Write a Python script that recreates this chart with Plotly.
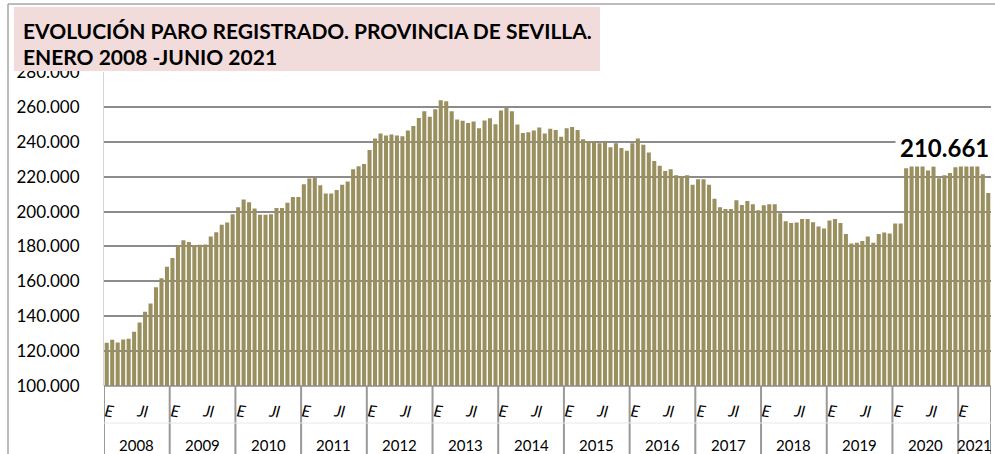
import plotly.graph_objects as go

# ---------------- data ----------------
years = ["2008", "2009", "2010", "2011", "2012", "2013", "2014",
         "2015", "2016", "2017", "2018", "2019", "2020", "2021"]
month_tick_index = [0, 6]
month_tick_text = ["E", "Jl"]
y_ticks = [100000, 120000, 140000, 160000, 180000, 200000, 220000, 240000, 260000, 280000]

v2008 = [124800, 126500, 125000, 126700, 127100, 131100, 136400, 142500, 147300, 156600, 161700, 168400]
v2009 = [173400, 180400, 183600, 182500, 180800, 181000, 181100, 185700, 188200, 192400, 193700, 198500]
v2010 = [202500, 206900, 205400, 201700, 198100, 198100, 198500, 202100, 202100, 205000, 208400, 208400]
v2011 = [215600, 218900, 219400, 215100, 210300, 210300, 212400, 215400, 217300, 224200, 225900, 227300]
v2012 = [235300, 241900, 244800, 243600, 244200, 243600, 243200, 246500, 249100, 253700, 257500, 254300]
v2013 = [258700, 263800, 263200, 257500, 252800, 252000, 250700, 251600, 247800, 252200, 253500, 250100]
v2014 = [257900, 259400, 257500, 249900, 245000, 245400, 246500, 248200, 244800, 247400, 246700, 242900]
v2015 = [247800, 248400, 246700, 241400, 240400, 240200, 239100, 240200, 236800, 239100, 236400, 234900]
v2016 = [239200, 241900, 238300, 233900, 229000, 226300, 223200, 224200, 220800, 220400, 220800, 215400]
v2017 = [218500, 218500, 215400, 207400, 202500, 201500, 201400, 206500, 203800, 206100, 204200, 200800]
v2018 = [203600, 204200, 204200, 199100, 194500, 193500, 193700, 195700, 195700, 193900, 191400, 190300]
v2019 = [194900, 195700, 193400, 187100, 181700, 182100, 183100, 185700, 182100, 187100, 188000, 187400]
v2020 = [193100, 193100, 224800, 229900, 226100, 228000, 223600, 225900, 219100, 220800, 222100, 225400]
v2021 = [230100, 231100, 228600, 227400, 221400, 210661]

yearly = [v2008, v2009, v2010, v2011, v2012, v2013, v2014,
          v2015, v2016, v2017, v2018, v2019, v2020, v2021]

title_line1 = "EVOLUCIÓN PARO REGISTRADO. PROVINCIA DE SEVILLA."
title_line2 = "ENERO 2008 -JUNIO 2021"

# ---------------- build ----------------
series = [v for yr in yearly for v in yr]
n = len(series)
xs = list(range(n))


def fmt(v):
    return f"{v:,}".replace(",", ".")


W, H = 995, 454
ML, MR, MT, MB = 104, 4, 72, 68
PW, PH = W - ML - MR, H - MT - MB


def px(x):
    return (x - ML) / PW


def py(y):
    return (H - MB - y) / PH


FONT = "Lato"
GRID = "#8C8C8C"

fig = go.Figure(
    go.Bar(x=xs, y=series, width=0.74,
           marker=dict(color="#9A8F5E", line=dict(width=0)),
           hoverinfo="skip")
)

fig.update_layout(
    width=W, height=H,
    margin=dict(l=ML, r=MR, t=MT, b=MB),
    paper_bgcolor="white", plot_bgcolor="white",
    showlegend=False,
    font=dict(family=FONT, color="black"),
)

fig.update_xaxes(range=[-0.5, n - 0.5], showticklabels=False, showgrid=False,
                 zeroline=False, showline=False, ticks="")
fig.update_yaxes(range=[y_ticks[0], y_ticks[-1]], tickvals=y_ticks,
                 ticktext=[fmt(v) for v in y_ticks],
                 tickfont=dict(family=FONT, size=17, color="black"),
                 showgrid=True, gridcolor=GRID, gridwidth=1.5,
                 zeroline=False, showline=True, linecolor="#D4D4D4", linewidth=1,
                 ticks="", ticklabelstandoff=20)

shapes = []
# baseline
shapes.append(dict(type="line", xref="paper", yref="paper", x0=0, x1=1, y0=0, y1=0,
                   line=dict(color=GRID, width=1.5)))
# year dividers below axis
starts = [0]
for yr in yearly:
    starts.append(starts[-1] + len(yr))
for s in starts:
    shapes.append(dict(type="line", xref="x", yref="paper", x0=s - 0.5, x1=s - 0.5,
                       y0=0, y1=py(H), line=dict(color="#999999", width=2)))
# faint separator between month and year rows
shapes.append(dict(type="line", xref="paper", yref="paper", x0=0, x1=1,
                   y0=py(423), y1=py(423), line=dict(color="#E8E8E8", width=1)))
# outer frame (left and top)
shapes.append(dict(type="line", xref="paper", yref="paper", x0=px(8), x1=px(8),
                   y0=py(4), y1=py(H), line=dict(color="#A6A6A6", width=1.5)))
shapes.append(dict(type="line", xref="paper", yref="paper", x0=px(8), x1=px(W),
                   y0=py(4), y1=py(4), line=dict(color="#A6A6A6", width=1.5)))
# title box
shapes.append(dict(type="rect", xref="paper", yref="paper", layer="above",
                   x0=px(14), x1=px(600), y0=py(71), y1=py(7),
                   fillcolor="#F2DCDB", line=dict(width=0)))
fig.update_layout(shapes=shapes)

ann = []
ann.append(dict(xref="paper", yref="paper", x=px(21), y=py(30), xanchor="left", yanchor="middle",
                text="<b>" + title_line1 + "</b>", showarrow=False,
                font=dict(family=FONT, size=21, color="black")))
ann.append(dict(xref="paper", yref="paper", x=px(21), y=py(57), xanchor="left", yanchor="middle",
                text="<b>" + title_line2 + "</b>", showarrow=False,
                font=dict(family=FONT, size=21, color="black")))

# month labels
for s, yr in zip(starts[:-1], yearly):
    for mi, mt in zip(month_tick_index, month_tick_text):
        if mi < len(yr):
            ann.append(dict(xref="x", yref="paper", x=s + mi, y=py(410), xshift=3,
                            xanchor="center", yanchor="middle", text="<i>" + mt + "</i>",
                            showarrow=False, textangle=8,
                            font=dict(family=FONT, size=16, color="black")))
# year labels
for s, yr, label in zip(starts[:-1], yearly, years):
    ann.append(dict(xref="x", yref="paper", x=s + (len(yr) - 1) / 2, y=py(445),
                    xanchor="center", yanchor="middle", text=label, showarrow=False,
                    font=dict(family=FONT, size=15, color="black")))

# last value label
ann.append(dict(xref="x", yref="y", x=n - 1, y=237000, xanchor="right", yanchor="middle",
                xshift=6, text="<b>" + fmt(series[-1]) + "</b>", showarrow=False,
                bgcolor="white", borderpad=4,
                font=dict(family=FONT, size=24, color="black")))

fig.update_layout(annotations=ann)

fig.write_html("out.html",
               config={"displayModeBar": False},
               post_script="document.body.style.margin='0';document.body.style.overflow='hidden';")
